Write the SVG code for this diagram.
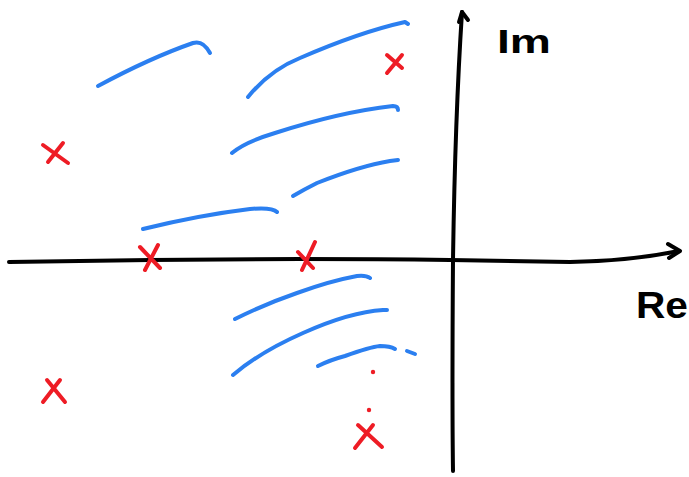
<svg xmlns="http://www.w3.org/2000/svg" width="689" height="477" viewBox="0 0 689 477">
<style>
.ax{fill:none;stroke:#000;stroke-width:4;stroke-linecap:round;stroke-linejoin:round}
.bl{fill:none;stroke:#2b7ff0;stroke-width:4;stroke-linecap:round;stroke-linejoin:round}
.rx{fill:none;stroke:#ee1c25;stroke-width:4;stroke-linecap:round}
.dot{fill:#ee1c25}
.lbl{font-family:"Liberation Sans",Arial,sans-serif;font-weight:bold;fill:#000}
</style>
<rect width="689" height="477" fill="#fff"/>
<g id="axes">
  <path class="ax" d="M9,262 L150,260 L300,259 Q380,259 450,260 L570,262 Q630,261 679,251"/>
  <path class="ax" d="M668,244 L680,251 L669,258"/>
  <path class="ax" d="M453,471 Q452,400 453,260 Q455,120 462,12"/>
  <path class="ax" d="M459,22 L462,12 L468,20"/>
  <text id="im" class="lbl" x="497" y="53" font-size="34" textLength="54" lengthAdjust="spacingAndGlyphs">Im</text>
  <text id="re" class="lbl" x="636" y="318" font-size="36" textLength="52" lengthAdjust="spacingAndGlyphs">Re</text>
</g>
<g id="strokes">
  <path class="bl" d="M98,86 Q150,58 193,43 Q203,40 210,53"/>
  <path class="bl" d="M248,97 Q270,70 300,58 Q360,32 405,22 L408,24"/>
  <path class="bl" d="M232,153 Q245,142 275,133 Q340,112 393,106 Q398,106 398,110"/>
  <path class="bl" d="M293,196 Q305,189 317,183 Q360,166 390,161 L398,160"/>
  <path class="bl" d="M143,229 Q200,215 250,209 Q272,207 277,212"/>
  <path class="bl" d="M235,319 Q265,304 297,293 Q330,281 357,276 Q366,275 370,278"/>
  <path class="bl" d="M233,375 Q260,352 303,333 Q350,312 383,310 L387,310"/>
  <path class="bl" d="M318,366 Q330,360 345,356 Q370,347 380,346 Q390,346 395,349"/>
  <path class="bl" d="M407,351 L415,354"/>
</g>
<g id="poles">
  <g id="p1"><path class="rx" d="M43,145 L68,163 M63,143 L48,162"/></g>
  <g id="p2"><path class="rx" d="M47,380 L65,402 M60,380 L43,402"/></g>
  <g id="p3"><path class="rx" d="M140,247 L160,268 M158,245 L145,270"/></g>
  <g id="p4"><path class="rx" d="M298,252 L313,268 M315,242 L302,270"/></g>
  <g id="p5"><path class="rx" d="M387,55 L402,68 M402,55 L387,73"/></g>
  <g id="p6"><path class="rx" d="M358,425 L382,447 M373,425 L355,448"/></g>
  <circle class="dot" cx="373" cy="372" r="2.2"/>
  <circle class="dot" cx="369" cy="410" r="2.2"/>
</g>
</svg>
